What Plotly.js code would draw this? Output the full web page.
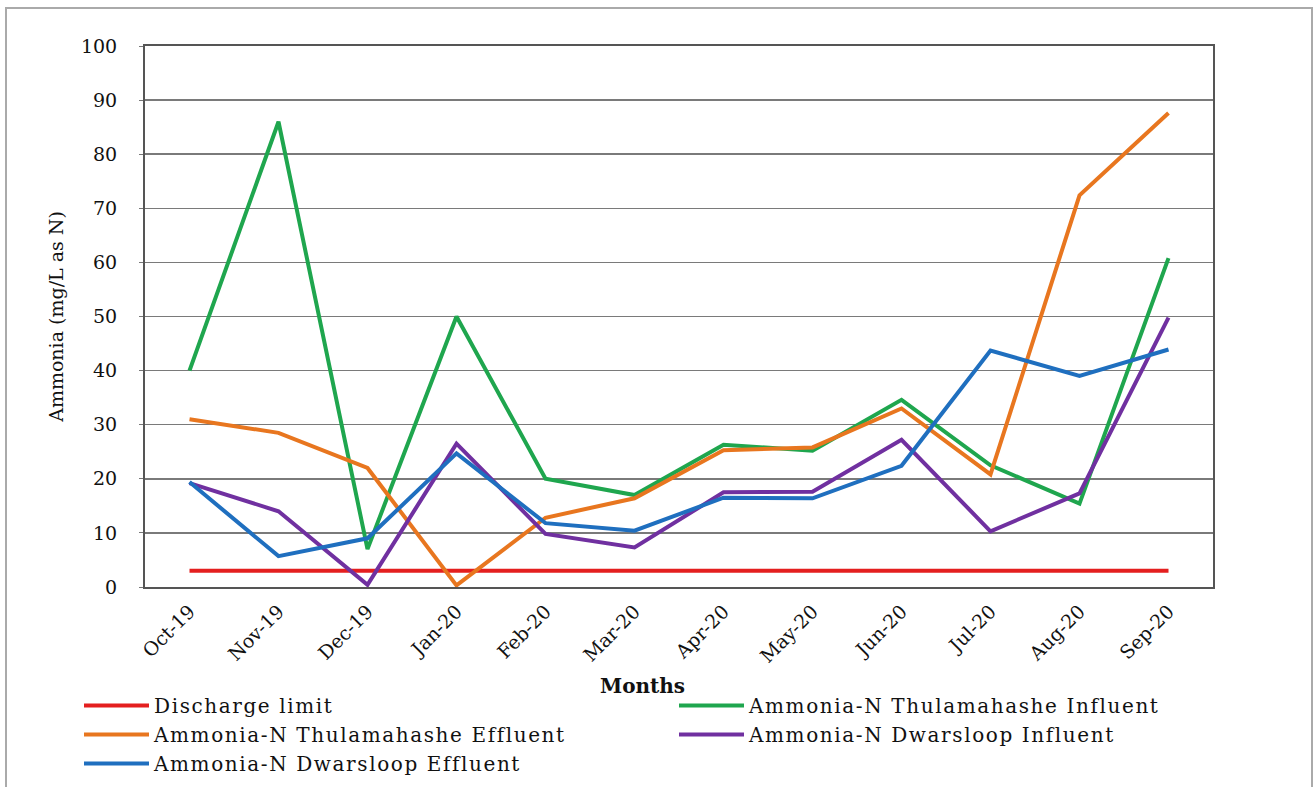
<!DOCTYPE html>
<html>
<head>
<meta charset="utf-8">
<script src="https://cdn.plot.ly/plotly-3.0.1.min.js"></script>
<style>
  html, body { margin: 0; padding: 0; background: #ffffff; }
  #chart { width: 1316px; height: 787px; }
  #chart .legendtext { letter-spacing: 1.6px; }
</style>
</head>
<body>
<div id="chart"></div>
<script>
const months = ["Oct-19","Nov-19","Dec-19","Jan-20","Feb-20","Mar-20","Apr-20","May-20","Jun-20","Jul-20","Aug-20","Sep-20"];
const dischargeLimit = [3,3,3,3,3,3,3,3,3,3,3,3];
const thulInfluent = [40, 86, 7, 50, 20, 17, 26.3, 25.2, 34.6, 22.5, 15.4, 60.8];
const thulEffluent = [31, 28.5, 22, 0.3, 12.8, 16.4, 25.3, 25.8, 33, 20.8, 72.4, 87.6];
const dwarInfluent = [19.2, 14, 0.4, 26.5, 9.8, 7.3, 17.5, 17.6, 27.2, 10.3, 17.3, 49.8];
const dwarEffluent = [19.4, 5.7, 9, 24.7, 11.8, 10.4, 16.5, 16.4, 22.4, 43.7, 39, 43.9];

const names = ["Discharge limit","Ammonia-N Thulamahashe Influent","Ammonia-N Thulamahashe Effluent","Ammonia-N Dwarsloop Influent","Ammonia-N Dwarsloop Effluent"];
const series = [dischargeLimit, thulInfluent, thulEffluent, dwarInfluent, dwarEffluent];
const colors = ["#e41f1f","#1fa64e","#e8761f","#7030a0","#1f6fbf"];

const traces = series.map((s, i) => ({
  type: "scatter",
  mode: "lines",
  x: months,
  y: s,
  name: names[i],
  line: { color: colors[i], width: 4 }
}));

const serif = "DejaVu Serif, Liberation Serif, serif";
const L = 145, R = 1213, T = 46, B = 587;
const pw = R - L, ph = B - T;

const layout = {
  width: 1316,
  height: 787,
  margin: { l: L, r: 1316 - R, t: T, b: 787 - B, autoexpand: false },
  paper_bgcolor: "#ffffff",
  plot_bgcolor: "#ffffff",
  font: { family: serif, color: "#111", size: 18 },
  showlegend: true,
  xaxis: {
    type: "category",
    tickangle: -45,
    tickfont: { family: serif, size: 19, color: "#111" },
    showgrid: false,
    showline: true,
    linecolor: "#555",
    linewidth: 2,
    mirror: true,
    ticks: "",
    ticklabelstandoff: 4,
    range: [-0.5, 11.5],
    automargin: false
  },
  yaxis: {
    range: [0, 100],
    dtick: 10,
    tickfont: { family: serif, size: 19, color: "#111" },
    showgrid: true,
    gridcolor: "#7a7a7a",
    gridwidth: 1.5,
    showline: true,
    linecolor: "#555",
    linewidth: 2,
    mirror: true,
    ticks: "outside",
    ticklen: 4,
    tickcolor: "#777",
    ticklabelstandoff: 18,
    zeroline: false,
    automargin: false,
    title: { text: "Ammonia (mg/L as N)", font: { family: serif, size: 19, color: "#111" }, standoff: 12 }
  },
  annotations: [
    {
      text: "<b>Months</b>",
      xref: "paper", yref: "paper",
      x: (642 - L) / pw, y: (B - 686) / ph,
      xanchor: "center", yanchor: "middle",
      showarrow: false,
      font: { family: serif, size: 20, color: "#111" }
    }
  ],
  legend: {
    orientation: "h",
    x: (79 - L) / pw,
    xanchor: "left",
    y: (B - 686) / ph,
    yanchor: "top",
    entrywidth: 515,
    entrywidthmode: "pixels",
    itemwidth: 65,
    font: { family: serif, size: 20, color: "#111" },
    bgcolor: "rgba(0,0,0,0)",
    tracegroupgap: 0
  },
  shapes: [
    {
      type: "rect", xref: "paper", yref: "paper",
      x0: (6 - L) / pw, x1: (1312 - L) / pw,
      y0: (B - 800) / ph, y1: (B - 8) / ph,
      line: { color: "#aaaaaa", width: 2 },
      fillcolor: "rgba(0,0,0,0)",
      layer: "below"
    }
  ]
};

Plotly.newPlot("chart", traces, layout, { displayModeBar: false, staticPlot: true });
</script>
</body>
</html>
